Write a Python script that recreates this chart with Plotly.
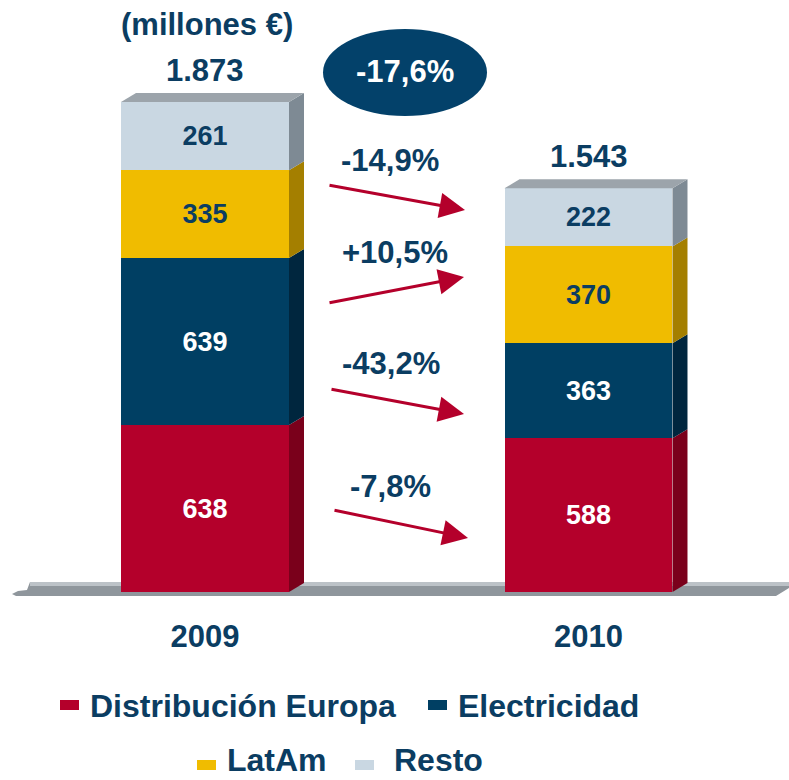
import plotly.graph_objects as go

# ---------------- data ----------------
years = ["2009", "2010"]
series_names = ["Distribución Europa", "Electricidad", "LatAm", "Resto"]
distribucion = [638, 588]
electricidad = [639, 363]
latam = [335, 370]
resto = [261, 222]
totals = [1873, 1543]
changes = ["-7,8%", "-43,2%", "+10,5%", "-14,9%"]   # bottom -> top
total_change = "-17,6%"
unit_label = "(millones €)"

# ---------------- style ----------------
W, H = 789, 780
FONT = "Liberation Sans, Arial, sans-serif"
NAVY = "#0B3D62"
front_colors = ["#B4002B", "#003F63", "#F0BC00", "#C9D7E2"]
side_colors = ["#7A001B", "#00263E", "#A47F00", "#7E8A94"]
top_color = "#9CA4AB"
label_colors = ["white", "white", NAVY, NAVY]
BIG = 31

M_T, M_B = 0, 188
PLOT_H = H - M_T - M_B          # 592
X_RANGE = [-0.5346, 1.5228]
Y_RANGE = [0, 2263]
BAR_W = 0.438
px_per_x = W / (X_RANGE[1] - X_RANGE[0])
px_per_y = PLOT_H / (Y_RANGE[1] - Y_RANGE[0])
DX = 15 / px_per_x
DY = 9 / px_per_y


def pxx(p):
    return p / W


def pxy(p):
    return (PLOT_H - p) / PLOT_H


series = [distribucion, electricidad, latam, resto]
xs = [0, 1]

fig = go.Figure()

# front faces
for name, vals, fc, lc in zip(series_names, series, front_colors, label_colors):
    fig.add_trace(go.Bar(
        x=xs, y=vals, name=name, width=BAR_W,
        marker=dict(color=fc, line=dict(width=0)),
        text=[str(v) for v in vals], textposition="inside",
        insidetextanchor="middle",
        textfont=dict(family=FONT, size=27, color=lc, weight="bold"),
        hoverinfo="skip", showlegend=False,
    ))

# side faces and top faces (3D effect)
for i, xc in enumerate(xs):
    xr = xc + BAR_W / 2
    xl = xc - BAR_W / 2
    base = 0
    for vals, sc in zip(series, side_colors):
        y0, y1 = base, base + vals[i]
        fig.add_trace(go.Scatter(
            x=[xr, xr + DX, xr + DX, xr, xr],
            y=[max(y0, 0), y0 + DY, y1 + DY, y1, max(y0, 0)],
            fill="toself", fillcolor=sc, mode="lines",
            line=dict(width=0, color=sc), hoverinfo="skip", showlegend=False,
        ))
        base = y1
    T = base
    fig.add_trace(go.Scatter(
        x=[xl, xl + DX, xr + DX, xr, xl],
        y=[T, T + DY, T + DY, T, T],
        fill="toself", fillcolor=top_color, mode="lines",
        line=dict(width=0, color=top_color), hoverinfo="skip", showlegend=False,
    ))

shapes = []
annotations = []

# platform under the bars
plat = [(30, 582), (789, 582), (789, 588), (776, 596), (16, 596), (12, 594), (18, 591), (27, 590)]
path = "M " + " L ".join(f"{pxx(a):.5f},{pxy(b):.5f}" for a, b in plat) + " Z"
shapes.append(dict(type="path", path=path, xref="paper", yref="paper",
                   fillcolor="#8F969C", line=dict(width=0), layer="below"))
shapes.append(dict(type="rect", xref="paper", yref="paper",
                   x0=pxx(30), x1=pxx(789), y0=pxy(586), y1=pxy(582),
                   fillcolor="#BCC2C7", line=dict(width=0), layer="below"))

# totals above bars
for xc, t in zip(xs, totals):
    annotations.append(dict(
        x=xc, y=t, xref="x", yref="y", text=f"{t:,}".replace(",", "."),
        showarrow=False, yshift=32, xanchor="center", yanchor="middle",
        font=dict(family=FONT, size=BIG, color=NAVY, weight="bold"),
    ))

# unit label
annotations.append(dict(x=pxx(207), y=pxy(25), xref="paper", yref="paper", text=unit_label,
                        showarrow=False, xanchor="center", yanchor="middle",
                        font=dict(family=FONT, size=BIG, color=NAVY, weight="bold")))

# ellipse with total change
shapes.append(dict(type="circle", xref="paper", yref="paper",
                   x0=pxx(323), x1=pxx(487), y0=pxy(116), y1=pxy(29),
                   fillcolor="#03416A", line=dict(width=0)))
annotations.append(dict(x=pxx(405), y=pxy(72), xref="paper", yref="paper", text=total_change,
                        showarrow=False, xanchor="center", yanchor="middle",
                        font=dict(family=FONT, size=BIG, color="white", weight="bold")))

# arrows with segment changes (bottom -> top)
arrow_geo = [  # (tail_x, tail_y, tip_x, tip_y, label_x, label_y)
    (333, 510, 468, 538, 390, 486),
    (330, 389, 464, 414, 391, 363),
    (328, 303, 464, 277, 395, 252),
    (328, 185, 465, 210, 390, 160),
]
RED = "#B4002B"
for (tx, ty, hx, hy, lx, ly), lab in zip(arrow_geo, changes):
    annotations.append(dict(
        x=pxx(hx), y=pxy(hy), xref="paper", yref="paper",
        ax=tx - hx, ay=ty - hy, axref="pixel", ayref="pixel",
        text="", showarrow=True, arrowhead=2, arrowsize=1.7, arrowwidth=3,
        arrowcolor=RED, standoff=0, startstandoff=0,
    ))
    annotations.append(dict(x=pxx(lx), y=pxy(ly), xref="paper", yref="paper", text=lab,
                            showarrow=False, xanchor="center", yanchor="middle",
                            font=dict(family=FONT, size=BIG, color=NAVY, weight="bold")))

# legend (manual layout)
legend_pos = [  # (marker_x, marker_y_center, text_x, text_y)
    (60, 705, 88, 706),
    (428, 705, 456, 706),
    (197, 765, 225, 760),
    (355, 765, 392, 760),
]
for (mx, my, tx, ty), name, col in zip(legend_pos, series_names, front_colors):
    shapes.append(dict(type="rect", xref="paper", yref="paper",
                       x0=pxx(mx), x1=pxx(mx + 19), y0=pxy(my + 5), y1=pxy(my - 5),
                       fillcolor=col, line=dict(width=0)))
    annotations.append(dict(x=pxx(tx), y=pxy(ty), xref="paper", yref="paper", text=name,
                            xanchor="left", yanchor="middle", showarrow=False,
                            font=dict(family=FONT, size=32, color=NAVY, weight="bold")))

fig.update_layout(
    width=W, height=H,
    margin=dict(l=0, r=0, t=M_T, b=M_B, pad=0),
    barmode="stack", bargap=0,
    plot_bgcolor="white", paper_bgcolor="white",
    showlegend=False,
    shapes=shapes, annotations=annotations,
    xaxis=dict(range=X_RANGE, tickvals=xs, ticktext=years, showgrid=False, zeroline=False,
               showline=False, ticks="", ticklabelstandoff=23,
               tickfont=dict(family=FONT, size=BIG, color=NAVY, weight="bold"), fixedrange=True),
    yaxis=dict(range=Y_RANGE, visible=False, showgrid=False, zeroline=False, fixedrange=True),
)

fig.write_html("out.html", config={"displayModeBar": False},
               post_script="document.body.style.margin='0px';")
